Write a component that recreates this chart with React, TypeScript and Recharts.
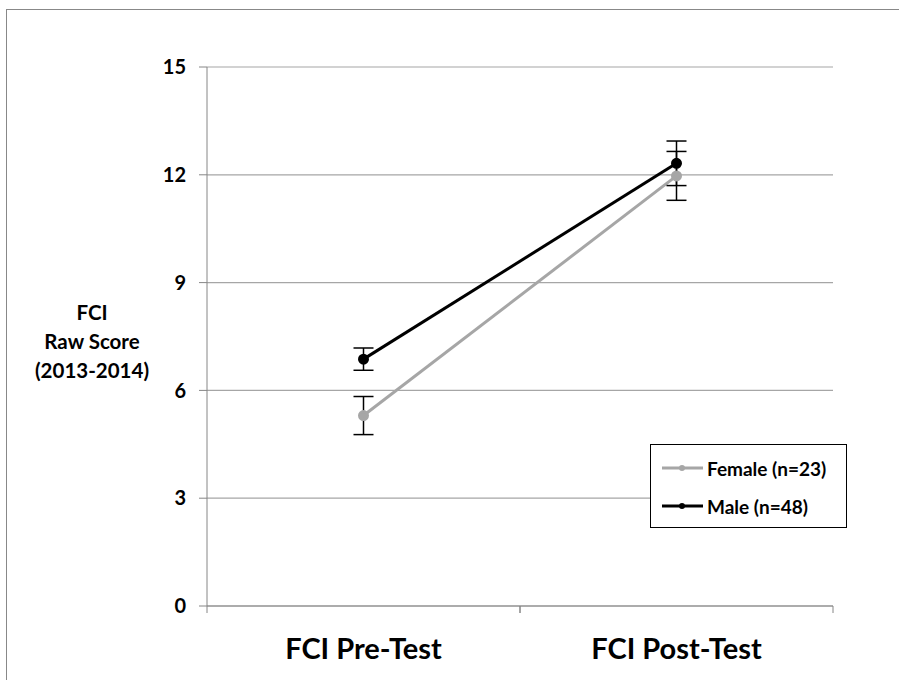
import React from "react";
import {
  LineChart,
  Line,
  XAxis,
  YAxis,
  CartesianGrid,
  ErrorBar,
  Legend,
} from "recharts";

const categories = ["FCI Pre-Test", "FCI Post-Test"];
const femaleScores = [5.3, 11.97];
const femaleErrors = [0.53, 0.68];
const maleScores = [6.87, 12.32];
const maleErrors = [0.31, 0.62];
const yTicks = [0, 3, 6, 9, 12, 15];
const yLabelLines = ["FCI", "Raw Score", "(2013-2014)"];

const FONT = "Lato, 'Open Sans', sans-serif";

const data = categories.map((name, i) => ({
  name,
  female: femaleScores[i],
  femaleErr: femaleErrors[i],
  male: maleScores[i],
  maleErr: maleErrors[i],
}));

function CategoryTick(props: any) {
  const { x, y, payload } = props;
  const half = payload.offset ?? 0;
  return (
    <g>
      <line x1={x - half} x2={x - half} y1={y - 8} y2={y - 1} stroke="#868686" />
      <line x1={x + half} x2={x + half} y1={y - 8} y2={y - 1} stroke="#868686" />
      <text
        x={x}
        y={y + 45}
        textAnchor="middle"
        fontFamily={FONT}
        fontWeight={700}
        fontSize={29}
        fill="#000"
      >
        {payload.value}
      </text>
    </g>
  );
}

function YTitle(props: any) {
  const { viewBox } = props;
  const cx = viewBox.x - 55;
  const cy = viewBox.y + viewBox.height / 2 - 17;
  return (
    <text textAnchor="middle" fontFamily={FONT} fontWeight={700} fontSize={20.5} fill="#000">
      {yLabelLines.map((line, i) => (
        <tspan key={line} x={cx} y={cy + i * 29}>
          {line}
        </tspan>
      ))}
    </text>
  );
}

function LegendBox(props: any) {
  const { payload } = props;
  return (
    <div
      style={{
        border: "1.5px solid #000",
        background: "#fff",
        width: 197,
        height: 84,
        boxSizing: "border-box",
        paddingTop: 4,
      }}
    >
      {payload.map((entry: any) => (
        <div
          key={entry.value}
          style={{ display: "flex", alignItems: "center", height: 38, paddingLeft: 11 }}
        >
          <svg width={42} height={10}>
            <line x1={0} x2={41} y1={5} y2={5} stroke={entry.color} strokeWidth={3} />
            <circle cx={20} cy={5} r={3} fill={entry.color} />
          </svg>
          <span
            style={{
              fontFamily: FONT,
              fontWeight: 700,
              fontSize: 19,
              color: "#000",
              marginLeft: 3,
            }}
          >
            {entry.value}
          </span>
        </div>
      ))}
    </div>
  );
}

export default function App() {
  return (
    <div style={{ position: "absolute", left: 0, top: 0, width: 899, height: 680, background: "#fff", overflow: "hidden" }}>
      <div
        style={{
          position: "absolute",
          left: 6,
          top: 9,
          width: 920,
          height: 700,
          border: "1.5px solid #888",
        }}
      />
      <div style={{ position: "absolute", left: 0, top: 0 }}>
        <LineChart
          width={899}
          height={680}
          data={data}
          margin={{ top: 67, right: 66, bottom: 0, left: 147 }}
        >
          <CartesianGrid vertical={false} stroke="#a6a6a6" strokeWidth={1.2} />
          <XAxis
            dataKey="name"
            scale="band"
            stroke="#868686"
            tickLine={false}
            tick={<CategoryTick />}
            height={74}
            interval={0}
          />
          <YAxis
            domain={[0, 15]}
            ticks={yTicks}
            width={60}
            stroke="#868686"
            tickSize={8}
            tickMargin={13}
            tick={{ fontFamily: FONT, fontWeight: 700, fontSize: 20, fill: "#000" }}
            label={<YTitle />}
          />
          <Legend
            layout="vertical"
            align="center"
            verticalAlign="middle"
            content={<LegendBox />}
            wrapperStyle={{ position: "absolute", left: 650, top: 444, width: 197, height: 84 }}
          />
          <Line
            dataKey="female"
            name="Female (n=23)"
            stroke="#a6a6a6"
            strokeWidth={3}
            dot={{ r: 4, fill: "#a6a6a6", stroke: "#a6a6a6" }}
            isAnimationActive={false}
          >
            <ErrorBar dataKey="femaleErr" width={10} stroke="#000" strokeWidth={1.5} />
          </Line>
          <Line
            dataKey="male"
            name="Male (n=48)"
            stroke="#000"
            strokeWidth={3}
            dot={{ r: 4, fill: "#000", stroke: "#000" }}
            isAnimationActive={false}
          >
            <ErrorBar dataKey="maleErr" width={10} stroke="#000" strokeWidth={1.5} />
          </Line>
        </LineChart>
      </div>
    </div>
  );
}
